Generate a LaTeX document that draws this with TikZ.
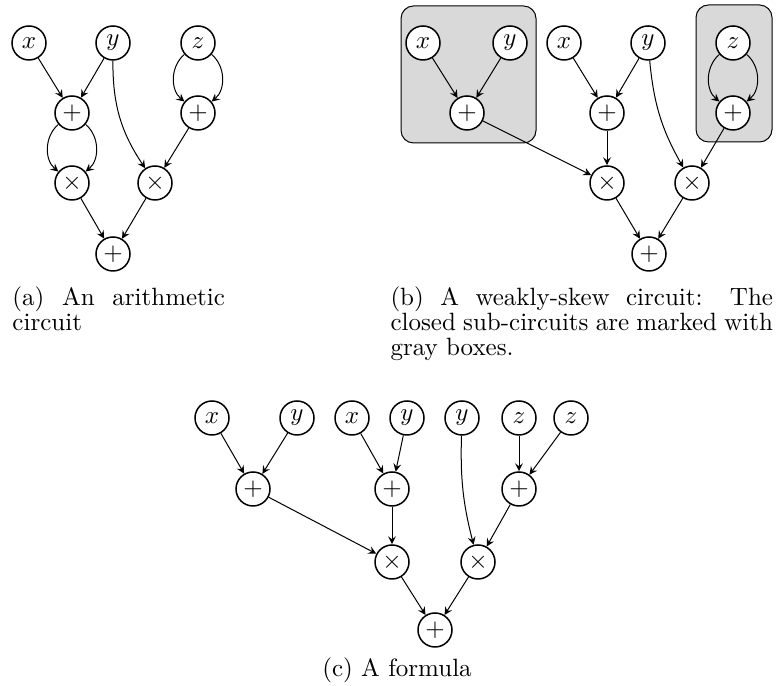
\documentclass[tikz,border=0pt]{standalone}
\usepackage{amsmath}
\tolerance=9999

\begin{document}
\begin{tikzpicture}[x=4pt, y=4pt]
	\tikzstyle{vertex_input} = [circle, draw=black, semithick, fill=white, minimum size=13.6pt, inner sep=0pt]
	\tikzstyle{vertex_gate} = [circle, draw=black, semithick, fill=white, minimum size=13.6pt, inner sep=0pt]
	\tikzstyle{closed_box} = [draw=black, fill=gray!30, rounded corners=5pt]
	\tikzstyle{sub_caption} = [inner sep=0pt, align=justify, font=\fontsize{10pt}{10pt}\selectfont]

	\useasboundingbox (0,0) rectangle (77.6,68.6);

%------------------------------------------------------------
% (a)
	\node[vertex_input] (ax) at (2.9,64.3) {$x$};
	\node[vertex_input] (ay) at (11.3,64.3) {$y$};
	\node[vertex_input] (az) at (19.8,64.3) {$z$};

	\node[vertex_gate] (ap1) at (7.2,57.3) {$+$};
	\node[vertex_gate] (ap2) at (19.8,57.3) {$+$};
	\node[vertex_gate] (at1) at (7.2,50.3) {$\times$};
	\node[vertex_gate] (at2) at (15.5,50.3) {$\times$};
	\node[vertex_gate] (ap3) at (11.3,43.2) {$+$};

	\path[-stealth] (ax) edge (ap1);
	\path[-stealth] (ay) edge (ap1);
	\path[-stealth] (ay) edge[bend right=17] (at2);
	\path[-stealth] (az) edge[bend right=50] (ap2);
	\path[-stealth] (az) edge[bend left=50] (ap2);
	\path[-stealth] (ap1) edge[bend right=50] (at1);
	\path[-stealth] (ap1) edge[bend left=50] (at1);
	\path[-stealth] (ap2) edge (at2);
	\path[-stealth] (at1) edge (ap3);
	\path[-stealth] (at2) edge (ap3);

	\node[sub_caption, text width=85pt, anchor=north west] (acap) at (1.2,40.0)
		{(a) An arithmetic circuit};

%------------------------------------------------------------
% (b)
	\draw[closed_box] (40.1,54.3) rectangle (53.6,68.0);
	\draw[closed_box] (69.6,54.4) rectangle (77.2,68.1);

	\node[vertex_input] (bx1) at (42.3,64.3) {$x$};
	\node[vertex_input] (by1) at (51.0,64.3) {$y$};
	\node[vertex_gate]  (bp1) at (46.7,57.3) {$+$};

	\node[vertex_input] (bx2) at (56.4,64.3) {$x$};
	\node[vertex_input] (by2) at (64.8,64.3) {$y$};
	\node[vertex_gate]  (bp2) at (60.7,57.3) {$+$};

	\node[vertex_input] (bz)  at (73.3,64.3) {$z$};
	\node[vertex_gate]  (bp3) at (73.3,57.3) {$+$};

	\node[vertex_gate] (bt1) at (60.7,50.3) {$\times$};
	\node[vertex_gate] (bt2) at (69.2,50.3) {$\times$};
	\node[vertex_gate] (bp4) at (64.9,43.2) {$+$};

	\path[-stealth] (bx1) edge (bp1);
	\path[-stealth] (by1) edge (bp1);
	\path[-stealth] (bx2) edge (bp2);
	\path[-stealth] (by2) edge (bp2);
	\path[-stealth] (bz) edge[bend right=50] (bp3);
	\path[-stealth] (bz) edge[bend left=50] (bp3);
	\path[-stealth] (bp1) edge (bt1);
	\path[-stealth] (bp2) edge (bt1);
	\path[-stealth] (by2) edge[bend right=12] (bt2);
	\path[-stealth] (bp3) edge (bt2);
	\path[-stealth] (bt1) edge (bp4);
	\path[-stealth] (bt2) edge (bp4);

	\node[sub_caption, text width=153pt, anchor=north west] (bcap) at (39.0,40.0)
		{(b) A weakly-skew circuit: The closed sub-circuits are marked with gray boxes.};

%------------------------------------------------------------
% (c)
	\node[vertex_input] (cx1) at (21.2,26.8) {$x$};
	\node[vertex_input] (cy1) at (29.7,26.8) {$y$};
	\node[vertex_input] (cx2) at (35.2,26.8) {$x$};
	\node[vertex_input] (cy2) at (40.7,26.8) {$y$};
	\node[vertex_input] (cy3) at (46.2,26.8) {$y$};
	\node[vertex_input] (cz1) at (51.9,26.8) {$z$};
	\node[vertex_input] (cz2) at (57.1,26.8) {$z$};

	\node[vertex_gate] (cp1) at (25.3,19.7) {$+$};
	\node[vertex_gate] (cp2) at (39.2,19.7) {$+$};
	\node[vertex_gate] (cp3) at (51.9,19.7) {$+$};
	\node[vertex_gate] (ct1) at (39.2,12.4) {$\times$};
	\node[vertex_gate] (ct2) at (47.8,12.4) {$\times$};
	\node[vertex_gate] (cp4) at (43.5,5.6) {$+$};

	\path[-stealth] (cx1) edge (cp1);
	\path[-stealth] (cy1) edge (cp1);
	\path[-stealth] (cx2) edge (cp2);
	\path[-stealth] (cy2) edge (cp2);
	\path[-stealth] (cz1) edge (cp3);
	\path[-stealth] (cz2) edge (cp3);
	\path[-stealth] (cp1) edge (ct1);
	\path[-stealth] (cp2) edge (ct1);
	\path[-stealth] (cy3) edge[bend right=8] (ct2);
	\path[-stealth] (cp3) edge (ct2);
	\path[-stealth] (ct1) edge (cp4);
	\path[-stealth] (ct2) edge (cp4);

	\node[sub_caption, anchor=base] (ccap) at (39.7,0.9) {(c) A formula};

\end{tikzpicture}
\end{document}
